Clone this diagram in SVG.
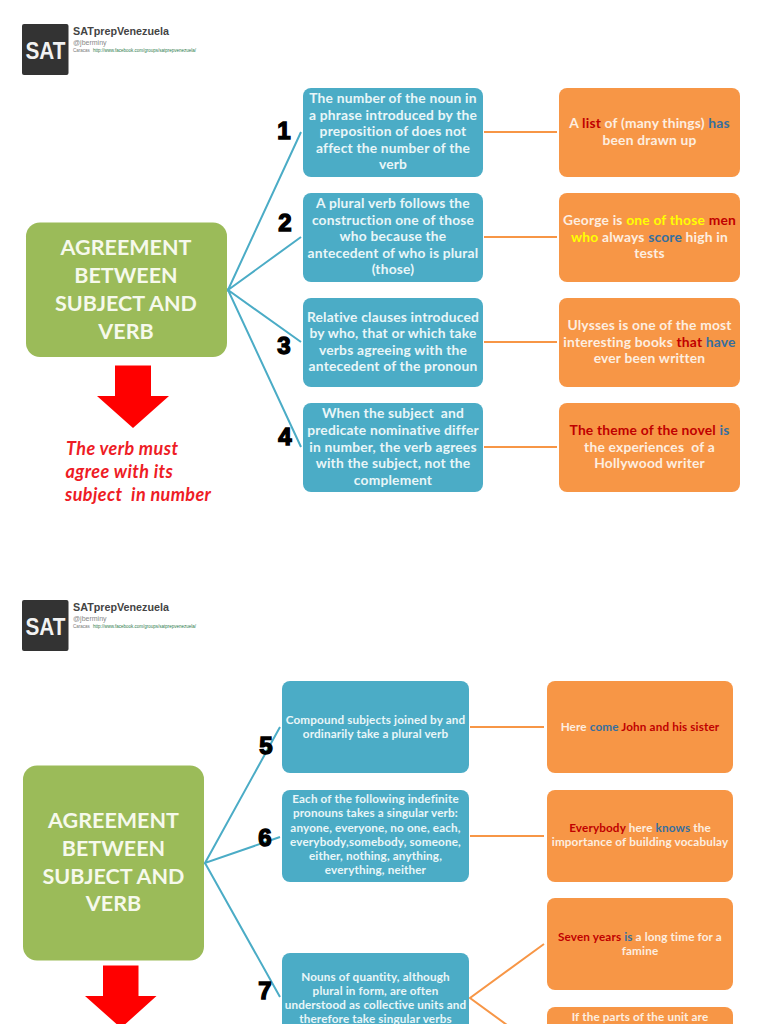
<svg xmlns="http://www.w3.org/2000/svg" width="768" height="1024" viewBox="0 0 768 1024">
<style>
text{font-family:Lato,"Open Sans","Liberation Sans",sans-serif;font-weight:700;text-anchor:middle;white-space:pre}
.b{fill:#4bacc6}.o{fill:#f79646}.g{fill:#9bbb59}
.t{fill:#e9f6f8;font-size:13.8px;letter-spacing:.2px}.u{fill:#fdeee0;font-size:13.8px;letter-spacing:.2px}.s{font-size:11.7px;letter-spacing:.15px}
.h{fill:#f6f9ec;font-size:21.500px;font-weight:700}
.r{fill:#c00000}.l{fill:#366f9f}.y{fill:#ffff00}
.n{fill:#000;font-family:"Liberation Sans",sans-serif;font-weight:700;font-size:24px;stroke:#000;stroke-width:1.4}
.c1{stroke:#4bacc6;stroke-width:2;fill:none}.c2{stroke:#f79646;stroke-width:2;fill:none}
.v{fill:#ee1c25;font-style:italic;font-size:18px;letter-spacing:.4px;text-anchor:start}
.a{fill:#ff0000}
.lt{fill:#444;font-family:"Liberation Sans",sans-serif;text-anchor:start}
</style>
<defs>
<g id="logo">
<rect x="22" y="24" width="46.500" height="51" rx="2" fill="#333"/>
<text x="45.500" y="59" style="font-family:'Liberation Sans',sans-serif;font-weight:700;font-size:24px;fill:#f2f2f2" textLength="40" lengthAdjust="spacingAndGlyphs">SAT</text>
<text class="lt" x="73" y="34.500" style="font-weight:700;font-size:10.500px" textLength="96" lengthAdjust="spacingAndGlyphs">SATprepVenezuela</text>
<text class="lt" x="73" y="45" style="font-weight:400;font-size:7px;fill:#888">@jberminy</text>
<text class="lt" x="73" y="52" style="font-weight:400;font-size:4.500px;fill:#777">Caracas</text>
<text class="lt" x="93" y="52" style="font-weight:400;font-size:4.500px;fill:#2c7a4b" textLength="103" lengthAdjust="spacingAndGlyphs">http://www.facebook.com/groups/satprepvenezuela/</text>
</g>
</defs>
<rect width="768" height="1024" fill="#fff"/>
<g id="logo-1"><use href="#logo"/></g>
<g id="logo-2"><use href="#logo" y="576"/></g>
<g id="connectors">
<path class="c1" d="M301 132L228 290L301 237M301 342L228 290L301 447"/>
<path class="c2" d="M484 132H557M484 237H557M484 342H557M484 447H557"/>
<path class="c1" d="M280 727L205 863L280 837M205 863L280 997"/>
<path class="c2" d="M470 727H544M470 836H544M544 944L470 998L544 1052"/>
</g>
<g id="main-1"><rect class="g" x="26" y="222.500" width="201" height="134.500" rx="14"/>
<text class="h" x="126"><tspan x="126" y="255">AGREEMENT</tspan><tspan x="126" y="283">BETWEEN</tspan><tspan x="126" y="310.500">SUBJECT AND</tspan><tspan x="126" y="338.500">VERB</tspan></text></g>
<g id="arrow-1"><path class="a" d="M115 365.500H151V396H169L133 428L97 396H115Z"/></g>
<g id="note-1"><text class="v"><tspan x="66" y="455">The verb must</tspan><tspan x="65.500" y="478">agree with its</tspan><tspan x="65" y="501">subject  in number</tspan></text></g>
<g id="num-1"><text class="n" x="284" y="139">1</text></g>
<g id="num-2"><text class="n" x="285" y="231">2</text></g>
<g id="num-3"><text class="n" x="284" y="354">3</text></g>
<g id="num-4"><text class="n" x="285" y="445">4</text></g>
<g id="rule-1"><rect class="b" x="303" y="88" width="180" height="89" rx="8"/>
<text class="t"><tspan x="393" y="103">The number of the noun in</tspan><tspan x="393" y="119.500">a phrase introduced by the</tspan><tspan x="393" y="135.500">preposition of does not</tspan><tspan x="393" y="152.500">affect the number of the</tspan><tspan x="393" y="169">verb</tspan></text></g>
<g id="rule-2"><rect class="b" x="303" y="193" width="180" height="89" rx="8"/>
<text class="t"><tspan x="393" y="208">A plural verb follows the</tspan><tspan x="393" y="224.500">construction one of those</tspan><tspan x="393" y="241">who because the</tspan><tspan x="393" y="257.500">antecedent of who is plural</tspan><tspan x="393" y="274">(those)</tspan></text></g>
<g id="rule-3"><rect class="b" x="303" y="298" width="180" height="89" rx="8"/>
<text class="t"><tspan x="393" y="321.500">Relative clauses introduced</tspan><tspan x="393" y="338">by who, that or which take</tspan><tspan x="393" y="355">verbs agreeing with the</tspan><tspan x="393" y="371">antecedent of the pronoun</tspan></text></g>
<g id="rule-4"><rect class="b" x="303" y="403" width="180" height="89" rx="8"/>
<text class="t"><tspan x="393" y="418">When the subject  and</tspan><tspan x="393" y="434.500">predicate nominative differ</tspan><tspan x="393" y="452">in number, the verb agrees</tspan><tspan x="393" y="468">with the subject, not the</tspan><tspan x="393" y="484.500">complement</tspan></text></g>
<g id="ex-1"><rect class="o" x="559" y="88" width="181" height="89" rx="8"/>
<text class="u"><tspan x="649.500" y="127.500">A <tspan class="r">list</tspan> of (many things) <tspan class="l">has</tspan></tspan><tspan x="649.500" y="145">been drawn up</tspan></text></g>
<g id="ex-2"><rect class="o" x="559" y="193" width="181" height="89" rx="8"/>
<text class="u"><tspan x="649.500" y="224.500">George is <tspan class="y">one of those</tspan> <tspan class="r">men</tspan></tspan><tspan x="649.500" y="242"><tspan class="y">who</tspan> always <tspan class="l">score</tspan> high in</tspan><tspan x="649.500" y="258">tests</tspan></text></g>
<g id="ex-3"><rect class="o" x="559" y="298" width="181" height="89" rx="8"/>
<text class="u"><tspan x="649.500" y="329.500">Ulysses is one of the most</tspan><tspan x="649.500" y="346.500">interesting books <tspan class="r">that</tspan> <tspan class="l">have</tspan></tspan><tspan x="649.500" y="363">ever been written</tspan></text></g>
<g id="ex-4"><rect class="o" x="559" y="403" width="181" height="89" rx="8"/>
<text class="u"><tspan x="649.500" y="434.500"><tspan class="r">The theme of the novel</tspan> <tspan class="l">is</tspan></tspan><tspan x="649.500" y="452">the experiences  of a</tspan><tspan x="649.500" y="468">Hollywood writer</tspan></text></g>
<g id="main-2"><rect class="g" x="23" y="765.500" width="181" height="195" rx="14"/>
<text class="h" x="113.500"><tspan x="113.500" y="828">AGREEMENT</tspan><tspan x="113.500" y="856">BETWEEN</tspan><tspan x="113.500" y="884">SUBJECT AND</tspan><tspan x="113.500" y="911">VERB</tspan></text></g>
<g id="arrow-2"><path class="a" d="M103 965.500H138.500V996H156.500L121 1028L85 996H103Z"/></g>
<g id="num-5"><text class="n" x="266" y="754">5</text></g>
<g id="num-6"><text class="n" x="265" y="846">6</text></g>
<g id="num-7"><text class="n" x="265" y="999">7</text></g>
<g id="rule-5"><rect class="b" x="282" y="681" width="187" height="92" rx="8"/>
<text class="t s"><tspan x="375.500" y="723.500">Compound subjects joined by and</tspan><tspan x="375.500" y="738">ordinarily take a plural verb</tspan></text></g>
<g id="rule-6"><rect class="b" x="282" y="790" width="187" height="92" rx="8"/>
<text class="t s"><tspan x="375.500" y="803">Each of the following indefinite</tspan><tspan x="375.500" y="817">pronouns takes a singular verb:</tspan><tspan x="375.500" y="832">anyone, everyone, no one, each,</tspan><tspan x="375.500" y="846">everybody,somebody, someone,</tspan><tspan x="375.500" y="860">either, nothing, anything,</tspan><tspan x="375.500" y="874">everything, neither</tspan></text></g>
<g id="rule-7"><rect class="b" x="282" y="953" width="187" height="92" rx="8"/>
<text class="t s"><tspan x="375.500" y="981">Nouns of quantity, although</tspan><tspan x="375.500" y="995">plural in form, are often</tspan><tspan x="375.500" y="1009">understood as collective units and</tspan><tspan x="375.500" y="1023">therefore take singular verbs</tspan></text></g>
<g id="ex-5"><rect class="o" x="547" y="681" width="186" height="92" rx="8"/>
<text class="u s"><tspan x="640" y="731">Here <tspan class="l">come</tspan> <tspan class="r">John and his sister</tspan></tspan></text></g>
<g id="ex-6"><rect class="o" x="547" y="790" width="186" height="92" rx="8"/>
<text class="u s"><tspan x="640" y="832"><tspan class="r">Everybody</tspan> here <tspan class="l">knows</tspan> the</tspan><tspan x="640" y="846">importance of building vocabulay</tspan></text></g>
<g id="ex-7"><rect class="o" x="547" y="898" width="186" height="92" rx="8"/>
<text class="u s"><tspan x="640" y="941"><tspan class="r">Seven years</tspan> <tspan class="l">is</tspan> a long time for a</tspan><tspan x="640" y="955">famine</tspan></text></g>
<g id="ex-8"><rect class="o" x="547" y="1007" width="186" height="92" rx="8"/>
<text class="u s"><tspan x="640" y="1021">If the parts of the unit are</tspan></text></g>
</svg>
